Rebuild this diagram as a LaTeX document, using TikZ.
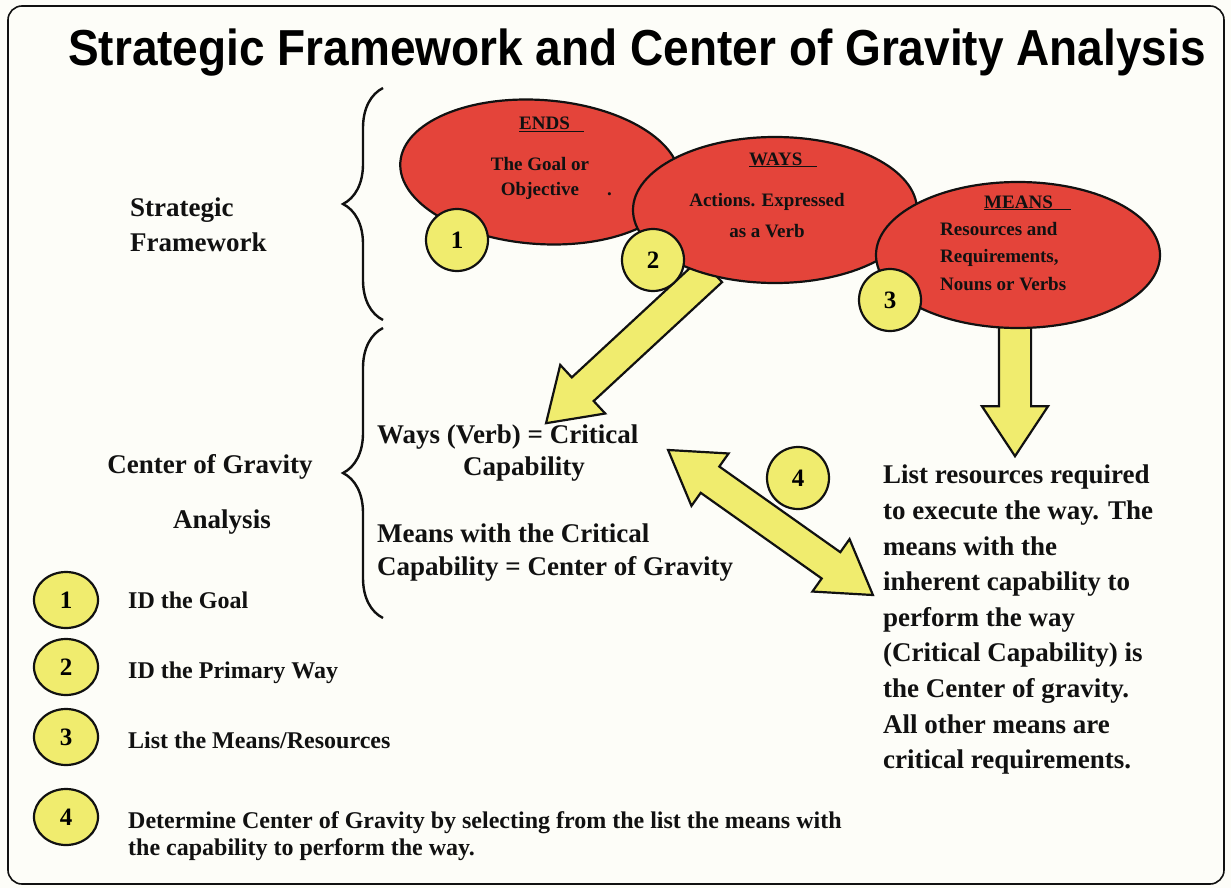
\documentclass[tikz,border=0pt]{standalone}
\usepackage{fontspec}
\setmainfont{Liberation Serif}
\newfontfamily\headfont{Liberation Sans}
\usepackage{xcolor}
\usepackage{tikz}
\usetikzlibrary{shapes.geometric,shapes.arrows,decorations.pathreplacing}
\definecolor{paper}{HTML}{FDFDF8}
\definecolor{ink}{HTML}{111111}
\definecolor{blob}{HTML}{E4443A}
\definecolor{lemon}{HTML}{F0EC6E}
\tikzset{
  frame/.style={draw=ink, line width=1.6pt, rounded corners=14pt, fill=paper},
  ttl/.style={anchor=base, inner sep=0pt, font=\headfont\bfseries\fontsize{46}{46}\selectfont},
  oval/.style={ellipse, draw=ink, line width=2.2pt, fill=blob},
  num/.style={circle, draw=ink, line width=2.2pt, fill=lemon, minimum size=62pt, inner sep=0pt, font=\bfseries\fontsize{25}{25}\selectfont},
  key/.style={ellipse, draw=ink, line width=2.2pt, fill=lemon, minimum width=64pt, minimum height=56pt, inner sep=0pt, font=\bfseries\fontsize{25}{25}\selectfont},
  fat/.style={single arrow, draw=ink, line width=2.2pt, fill=lemon, inner xsep=0pt, inner ysep=15pt, minimum width=64pt, single arrow head extend=17pt, single arrow tip angle=67},
  fatboth/.style={double arrow, draw=ink, line width=2.2pt, fill=lemon, inner xsep=0pt, inner ysep=15pt, minimum width=62pt, double arrow head extend=16pt, double arrow tip angle=64},
  curly/.style={draw=ink, line width=2.4pt, decorate, decoration={brace, amplitude=40pt}},
  lab/.style={inner sep=0pt, text=ink, font=\bfseries\fontsize{27}{35.6}\selectfont},
  olab/.style={inner sep=0pt, text=ink, font=\bfseries\fontsize{19}{25}\selectfont},
  keylab/.style={inner sep=0pt, text=ink, anchor=base west, font=\bfseries\fontsize{24}{27}\selectfont},
}
\begin{document}
\begin{tikzpicture}[x=1pt, y=-1pt]
  % page
  \fill[paper] (0,0) rectangle (1231,888);
  \useasboundingbox (0,0) rectangle (1231,888);
  \draw[frame] (8,6) rectangle (1224,884);
  \node[ttl] (title) at (637,66) {\scalebox{1}[1.1]{Strategic Framework and Center of Gravity Analysis}};

  % fat arrows, behind the ovals
  \node[fat, minimum height=225pt, rotate=222.8] (toCap) at (637.5,338.5) {};
  \node[fat, minimum height=132pt, rotate=-90] (toList) at (1015,378) {};
  \node[fatboth, minimum height=251pt, rotate=-35.3] (swap) at (770.5,522.5) {};

  % ends, ways, means
  \node[oval, minimum width=280pt, minimum height=144pt, rotate=-4] (ends) at (540,172) {};
  \node[oval, minimum width=284pt, minimum height=146pt] (ways) at (775,210) {};
  \node[oval, minimum width=284pt, minimum height=146pt] (means) at (1018,255) {};

  \node[olab, anchor=base west] (endsH) at (519,130) {\underline{ENDS\hspace{14pt}}};
  \node[olab, anchor=north, align=center] (endsT) at (540,157) {The Goal or\\Objective\rlap{\hspace{28pt}.}};
  \node[olab, anchor=base west] (waysH) at (749,165) {\underline{WAYS\hspace{15pt}}};
  \node[olab, anchor=north, align=center] (waysT) at (767,193) {Actions. Expressed\\[6pt]as a Verb};
  \node[olab, anchor=base west] (meansH) at (984,208) {\underline{MEANS\hspace{18pt}}};
  \node[olab, anchor=north west, align=left] (meansT) at (940,222)
    {Resources and\\[2.5pt]Requirements,\\[2.5pt]Nouns or Verbs};

  % numbered circles
  \node[num] (n1) at (457,240) {1};
  \node[num] (n2) at (653,260) {2};
  \node[num] (n3) at (890,300) {3};
  \node[num] (n4) at (798,478) {4};

  % braces
  \coordinate (sfTop) at (383,88);
  \coordinate (sfBot) at (383,320);
  \coordinate (cgTop) at (383,328);
  \coordinate (cgBot) at (383,618);
  \draw[curly] (sfBot) -- (sfTop);
  \draw[curly] (cgBot) -- (cgTop);

  % left labels
  \node[lab, anchor=north west, align=left] (sf) at (130,198) {Strategic\\[-0.6pt]Framework};
  \node[lab, anchor=base] (cg) at (210,473) {Center of Gravity};
  \node[lab, anchor=base] (cgA) at (222,528) {Analysis};

  % middle statements
  \node[lab, anchor=base west] (cc) at (377,443) {Ways (Verb) = Critical};
  \node[lab, anchor=base] (ccB) at (524,475) {Capability};
  \node[lab, anchor=north west, align=left] (cog) at (377,524) {Means with the Critical\\[-3pt]Capability = Center of Gravity};

  % right statement
  \node[lab, anchor=north west, align=left] (list) at (883,465)
    {List resources required\\to execute the way. The\\means with the\\inherent capability to\\perform the way\\(Critical Capability) is\\the Center of gravity.\\All other means are\\critical requirements.};

  % legend
  \node[key] (k1) at (66,600) {1};
  \node[key] (k2) at (66,667) {2};
  \node[key] (k3) at (66,737) {3};
  \node[key] (k4) at (66,817) {4};
  \node[keylab] (k1t) at (128,608) {ID the Goal};
  \node[keylab] (k2t) at (128,678) {ID the Primary Way};
  \node[keylab] (k3t) at (128,748) {List the Means/Resources};
  \node[keylab] (k4t) at (128,828) {Determine Center of Gravity by selecting from the list the means with};
  \node[keylab] (k4u) at (128,855) {the capability to perform the way.};
\end{tikzpicture}
\end{document}
